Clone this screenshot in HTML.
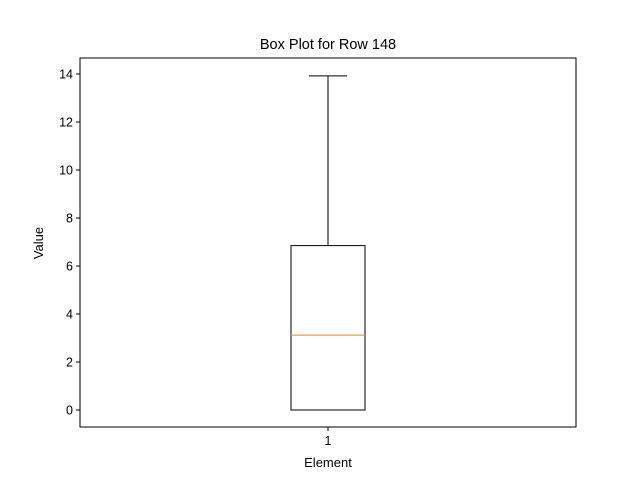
<!DOCTYPE html>
<html><head><meta charset="utf-8"><style>
body{margin:0;background:#fff;}
svg text{font-family:"Liberation Sans","DejaVu Sans",sans-serif;}
</style></head><body>
<svg id="chart" width="640" height="480" xmlns="http://www.w3.org/2000/svg"></svg>
<script>
const categories = ["1"];
const whiskerLow = [0];
const q1Values = [0];
const medianValues = [3.12];
const q3Values = [6.85];
const whiskerHigh = [13.92];
const yTicks = [0, 2, 4, 6, 8, 10, 12, 14];

const svg = document.getElementById('chart');
const NS = 'http://www.w3.org/2000/svg';
const L = 80, R = 576, T = 58, B = 427;
const yMin = -0.7083, yMax = 14.6667;
const y = v => B - (v - yMin) / (yMax - yMin) * (B - T);
const x = i => L + (i + 0.5) / categories.length * (R - L) + (categories.length === 1 ? 0 : 0);
const xc = i => (L + R) / 2 + (i - (categories.length - 1) / 2) * 100;

function mk(tag, attrs, name) {
  const el = document.createElementNS(NS, tag);
  for (const k in attrs) el.setAttribute(k, attrs[k]);
  
  
  svg.appendChild(el);
  return el;
}

// title & labels
const title = mk('text', {x: 328, y: 49, 'text-anchor': 'middle', 'font-size': 14.5}, 'chart-title');
title.textContent = 'Box Plot for Row 148';
const xl = mk('text', {x: 328, y: 467, 'text-anchor': 'middle', 'font-size': 13}, 'x-axis-title');
xl.textContent = 'Element';
const yl = mk('text', {x: 43, y: 243, 'text-anchor': 'middle', 'font-size': 13, transform: 'rotate(-90 43 243)'}, 'y-axis-title');
yl.textContent = 'Value';

// y ticks
yTicks.forEach(t => {
  const yy = y(t);
  mk('line', {x1: L - 4, x2: L, y1: yy, y2: yy, stroke: '#000', 'stroke-width': 1}, 'y-tick');
  const tx = mk('text', {x: L - 7, y: yy + 4.5, 'text-anchor': 'end', 'font-size': 12.5}, 'y-tick-label');
  tx.textContent = t;
});

categories.forEach((c, i) => {
  const cx = xc(i);
  mk('line', {x1: cx, x2: cx, y1: B, y2: B + 4, stroke: '#000'}, 'x-tick');
  const tl = mk('text', {x: cx, y: B + 18, 'text-anchor': 'middle', 'font-size': 12.5}, 'x-tick-label');
  tl.textContent = c;
  const bw = 74, cw = 38;
  mk('line', {x1: cx, x2: cx, y1: y(q3Values[i]), y2: y(whiskerHigh[i]), stroke: '#000'}, 'upper-whisker');
  mk('line', {x1: cx - cw/2, x2: cx + cw/2, y1: y(whiskerHigh[i]), y2: y(whiskerHigh[i]), stroke: '#000'}, 'upper-cap');
  mk('line', {x1: cx, x2: cx, y1: y(q1Values[i]), y2: y(whiskerLow[i]), stroke: '#000'}, 'lower-whisker');
  mk('line', {x1: cx - cw/2, x2: cx + cw/2, y1: y(whiskerLow[i]), y2: y(whiskerLow[i]), stroke: '#000'}, 'lower-cap');
  mk('rect', {x: cx - bw/2, y: y(q3Values[i]), width: bw, height: y(q1Values[i]) - y(q3Values[i]), fill: 'none', stroke: '#000'}, 'box');
  mk('line', {x1: cx - bw/2, x2: cx + bw/2, y1: y(medianValues[i]), y2: y(medianValues[i]), stroke: '#ff7f0e'}, 'median-line');
});

mk('rect', {x: L, y: T, width: R - L, height: B - T, fill: 'none', stroke: '#000', 'stroke-width': 1}, 'plot-frame');
</script>
</body></html>
